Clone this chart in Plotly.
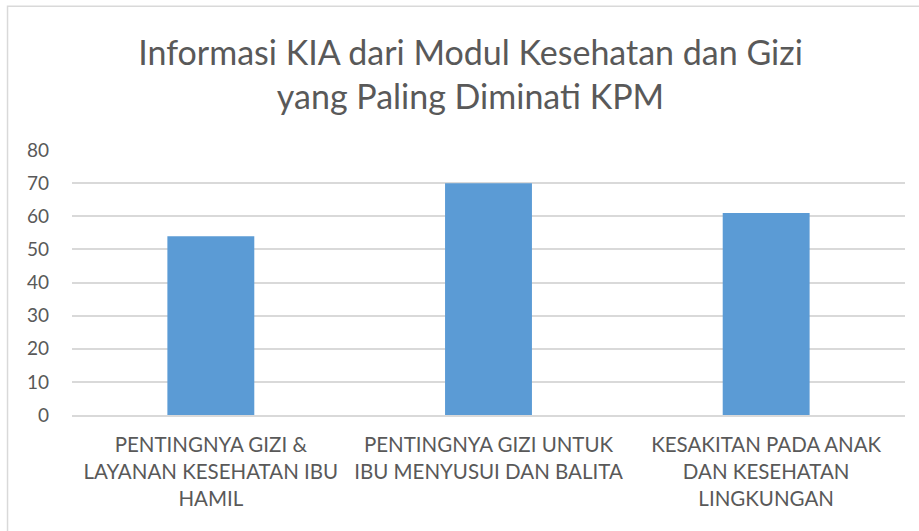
import plotly.graph_objects as go

categories = [
    "PENTINGNYA GIZI &<br>LAYANAN KESEHATAN IBU<br>HAMIL",
    "PENTINGNYA GIZI UNTUK<br>IBU MENYUSUI DAN BALITA",
    "KESAKITAN PADA ANAK<br>DAN KESEHATAN<br>LINGKUNGAN",
]
values = [54, 70, 61]
y_ticks = [0, 10, 20, 30, 40, 50, 60, 70, 80]
title_text = "Informasi KIA dari Modul Kesehatan dan Gizi<br>yang Paling Diminati KPM"

FONT = "Lato, 'Open Sans', sans-serif"
TXT = "#595959"

fig = go.Figure(go.Bar(x=categories, y=values, marker=dict(color="#5b9bd5", line=dict(width=0))))

fig.update_layout(
    width=919, height=531,
    margin=dict(l=72, r=14, t=150, b=116),
    paper_bgcolor="white", plot_bgcolor="white",
    bargap=0.687,
    showlegend=False,
    title=dict(text=title_text, x=0.512, xanchor="center", y=0.878, yanchor="middle",
               yref="container",
               font=dict(family=FONT, size=34, color=TXT)),
    font=dict(family=FONT, color=TXT),
    shapes=[dict(type="rect", xref="paper", yref="paper",
                 x0=-0.0774, x1=1.03, y0=-0.46, y1=1.542,
                 line=dict(color="#d9d9d9", width=1.5), fillcolor="rgba(0,0,0,0)", layer="below")],
)
fig.update_yaxes(range=[0, 80], tickvals=y_ticks, showgrid=True, gridcolor="#d9d9d9", gridwidth=1.5,
                 zeroline=False, showline=False, ticks="", ticklabelstandoff=22,
                 tickfont=dict(family=FONT, size=19, color=TXT))
fig.update_xaxes(showline=True, linecolor="#d9d9d9", linewidth=1.5, ticks="", ticklabelstandoff=11,
                 tickfont=dict(family=FONT, size=20.5, color=TXT), tickangle=0)

fig.write_html("out.html", config={"displayModeBar": False},
               post_script="document.body.style.margin='0';")
